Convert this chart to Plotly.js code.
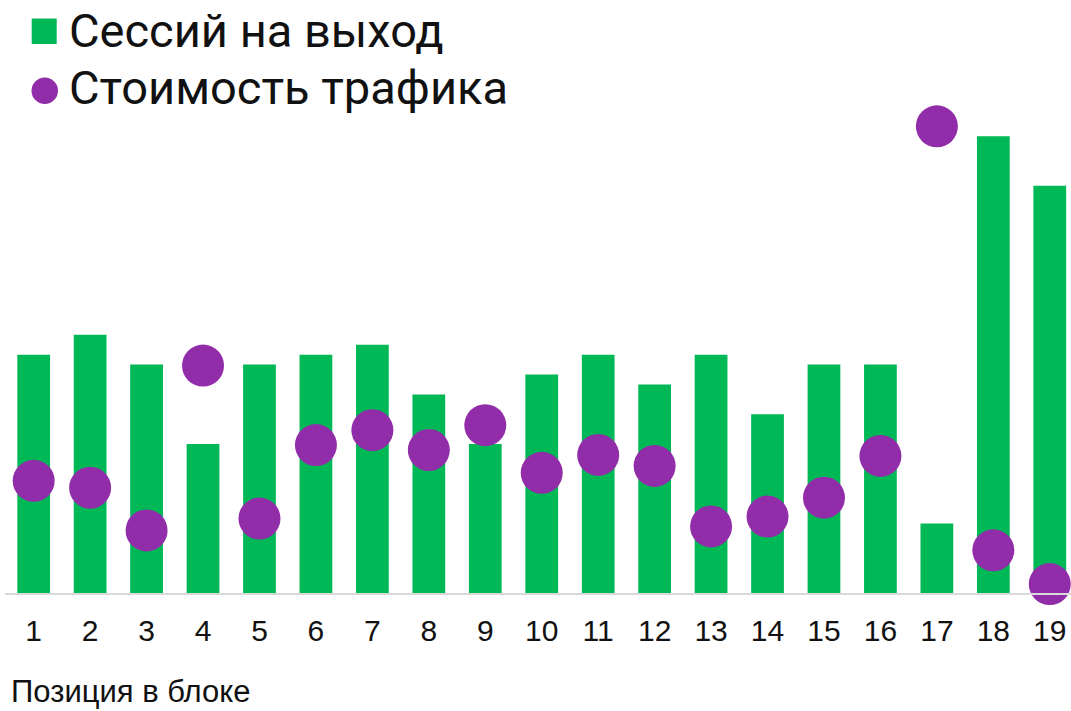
<!DOCTYPE html>
<html>
<head>
<meta charset="utf-8">
<script src="https://cdn.plot.ly/plotly-3.0.1.min.js"></script>
<style>html,body{margin:0;padding:0;background:#fff;}#chart{width:1071px;height:711px;}</style>
</head>
<body>
<div id="chart"></div>
<script>
// Data
const positions = ["1","2","3","4","5","6","7","8","9","10","11","12","13","14","15","16","17","18","19"];
const sessionsToExit = [24,26,23,15,23,24,25,20,15,22,24,21,24,18,23,23,7,46,41];
const trafficCost = [11.3,10.6,6.3,22.9,7.5,14.9,16.4,14.4,16.9,12.1,13.9,12.8,6.7,7.7,9.6,13.8,47.0,4.3,0.9];
const seriesNames = ["Сессий на выход", "Стоимость трафика"];
const xTitle = "Позиция в блоке";

const GREEN = "#00B956", PURPLE = "#922DAA";
const W = 1071, H = 711, L = 5, R = 0, T = 100, B = 118;
const pw = W - L - R, ph = H - T - B;
const px = v => (v - L) / pw;          // pixel -> paper x
const py = v => (H - B - v) / ph;      // pixel -> paper y

const traces = [
  {type: "bar", x: positions, y: sessionsToExit, name: seriesNames[0],
   marker: {color: GREEN}, hoverinfo: "x+y"},
  {type: "scatter", mode: "markers", x: positions, y: trafficCost, name: seriesNames[1],
   yaxis: "y2", cliponaxis: false,
   marker: {color: PURPLE, size: 42, line: {width: 0}}}
];

const yRange = [0, ph / 9.93];
const layout = {
  width: W, height: H,
  margin: {l: L, r: R, t: T, b: B, pad: 0},
  paper_bgcolor: "#fff", plot_bgcolor: "#fff",
  showlegend: false,
  bargap: 0.42,
  font: {family: "Liberation Sans, Arial, sans-serif", color: "#111"},
  xaxis: {
    type: "category", range: [-0.508, 18.376],
    showline: true, linecolor: "#d9d9d9", linewidth: 2,
    showgrid: false, zeroline: false, ticks: "",
    tickfont: {size: 30, color: "#111"}, ticklabelstandoff: 10
  },
  yaxis: {range: yRange, visible: false, showgrid: false, zeroline: false},
  yaxis2: {range: yRange, overlaying: "y", visible: false, showgrid: false, zeroline: false},
  shapes: [
    {type: "rect", xref: "paper", yref: "paper", x0: px(31.7), x1: px(56.7), y0: py(44), y1: py(18.5),
     fillcolor: GREEN, line: {width: 0}},
    {type: "circle", xref: "paper", yref: "paper", x0: px(31.5), x1: px(58), y0: py(104), y1: py(77.5),
     fillcolor: PURPLE, line: {width: 0}}
  ],
  annotations: [
    {text: seriesNames[0], xref: "paper", yref: "paper", x: px(67), y: py(30), xanchor: "left", yanchor: "middle",
     showarrow: false, font: {family: "Roboto", size: 47, color: "#111"}},
    {text: seriesNames[1], xref: "paper", yref: "paper", x: px(67), y: py(87), xanchor: "left", yanchor: "middle",
     showarrow: false, font: {family: "Roboto", size: 47, color: "#111"}},
    {text: xTitle, xref: "paper", yref: "paper", x: px(9), y: py(691), xanchor: "left", yanchor: "middle",
     showarrow: false, font: {family: "Liberation Sans, Arial, sans-serif", size: 31, color: "#111"}}
  ]
};

Plotly.newPlot("chart", traces, layout, {displayModeBar: false, staticPlot: true});
</script>
</body>
</html>
